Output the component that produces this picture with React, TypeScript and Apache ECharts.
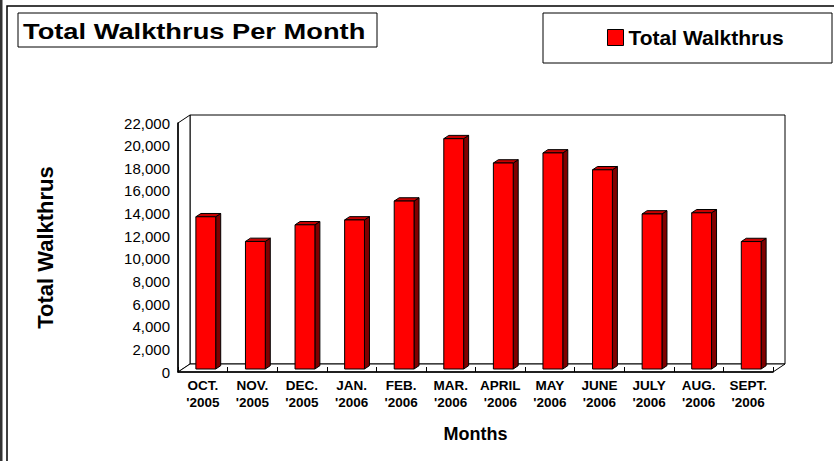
import React, { useEffect, useRef } from "react";
import * as echarts from "echarts";

const months = ["OCT.", "NOV.", "DEC.", "JAN.", "FEB.", "MAR.", "APRIL", "MAY", "JUNE", "JULY", "AUG.", "SEPT."];
const years = ["'2005", "'2005", "'2005", "'2006", "'2006", "'2006", "'2006", "'2006", "'2006", "'2006", "'2006", "'2006"];
const walkthrus = [13450, 11270, 12740, 13170, 14840, 20350, 18200, 19090, 17600, 13700, 13800, 11260];
const yMin = 0;
const yMax = 22000;
const yInterval = 2000;

const FONT = 'Arial, "Liberation Sans", sans-serif';

// layout (pixels)
const GL = 178, GT = 123, GW = 595, GH = 249;
const DX = 12, DY = -8;

export default function App() {
  const ref = useRef<HTMLDivElement>(null);
  useEffect(() => {
    if (!ref.current) return;
    const chart = echarts.init(ref.current, null, { renderer: "svg" });
    const categories = months.map((m, i) => m + "\n" + years[i]);
    const GR = GL + GW, GB = GT + GH;
    const option: any = {
      animation: false,
      backgroundColor: "#ffffff",
      textStyle: { fontFamily: FONT },
      grid: { left: GL, top: GT, width: GW, height: GH, containLabel: false },
      legend: {
        left: 607,
        top: 27,
        padding: 0,
        itemWidth: 16,
        itemHeight: 16,
        selectedMode: false,
        textStyle: { fontSize: 21, fontWeight: "bold", color: "#000", fontFamily: FONT },
        data: [
          {
            name: "Total Walkthrus",
            icon: "rect",
            itemStyle: { color: "#ff0000", borderColor: "#000", borderWidth: 1 },
          },
        ],
      },
      xAxis: {
        type: "category",
        data: categories,
        boundaryGap: true,
        axisLine: { show: true, lineStyle: { color: "#000", width: 1.5 } },
        axisTick: { show: true, inside: true, length: 5, interval: 0, lineStyle: { color: "#000" } },
        axisLabel: {
          interval: 0,
          margin: 5,
          fontSize: 13.5,
          fontWeight: "bold",
          lineHeight: 17,
          color: "#000",
          fontFamily: FONT,
        },
        name: "Months",
        nameLocation: "middle",
        nameGap: 53,
        nameTextStyle: { fontSize: 18, fontWeight: "bold", color: "#000", fontFamily: FONT },
        splitLine: { show: false },
      },
      yAxis: {
        type: "value",
        min: yMin,
        max: yMax,
        interval: yInterval,
        axisLine: { show: true, lineStyle: { color: "#000", width: 1.5 } },
        axisTick: { show: false },
        splitLine: { show: false },
        axisLabel: {
          margin: 8,
          fontSize: 15,
          color: "#000",
          fontFamily: FONT,
          formatter: (v: number) => v.toLocaleString("en-US"),
        },
        name: "Total Walkthrus",
        nameLocation: "middle",
        nameRotate: 90,
        nameGap: 122,
        nameTextStyle: { fontSize: 22, fontWeight: "bold", color: "#000", fontFamily: FONT },
      },
      graphic: [
        // outer frame
        { type: "rect", z: -10, silent: true, shape: { x: 0, y: 0, width: 2.5, height: 461 }, style: { fill: "#333" } },
        {
          type: "rect", z: -10, silent: true,
          shape: { x: 7, y: 6, width: 900, height: 600 },
          style: { fill: "#fff", stroke: "#000", lineWidth: 1.5 },
        },
        // back wall
        {
          type: "rect", z: -5, silent: true,
          shape: { x: GL + DX, y: GT + DY, width: GW, height: GH },
          style: { fill: "#fff", stroke: "#000", lineWidth: 1 },
        },
        // left wall
        {
          type: "polygon", z: -5, silent: true,
          shape: { points: [[GL, GT], [GL + DX, GT + DY], [GL + DX, GB + DY], [GL, GB]] },
          style: { fill: "#fff", stroke: "#000", lineWidth: 1 },
        },
        // floor
        {
          type: "polygon", z: -5, silent: true,
          shape: { points: [[GL, GB], [GL + DX, GB + DY], [GR + DX, GB + DY], [GR, GB]] },
          style: { fill: "#fff", stroke: "#000", lineWidth: 1 },
        },
        // title box
        {
          type: "rect", z: 5, silent: true,
          shape: { x: 18, y: 13, width: 359, height: 34 },
          style: { fill: "#fff", stroke: "#000", lineWidth: 1 },
        },
        {
          type: "text", z: 6, silent: true,
          x: 23, y: 31, scaleX: 1.24,
          style: {
            text: "Total Walkthrus Per Month",
            font: `bold 22px ${FONT}`,
            fill: "#000",
            textAlign: "left",
            textVerticalAlign: "middle",
            verticalAlign: "middle",
          },
        },
        // legend box
        {
          type: "rect", z: -1, silent: true,
          shape: { x: 543, y: 13, width: 289, height: 50 },
          style: { fill: "#fff", stroke: "#000", lineWidth: 1 },
        },
      ],
      series: [
        {
          name: "Total Walkthrus",
          type: "custom",
          itemStyle: { color: "#ff0000" },
          data: walkthrus.map((v, i) => [i, v]),
          encode: { x: 0, y: 1 },
          renderItem: (params: any, api: any) => {
            const idx = api.value(0);
            const v = api.value(1);
            const top = api.coord([idx, v]);
            const base = api.coord([idx, 0]);
            const band = api.size([1, 0])[0];
            const w = band * 0.4;
            const ox = 3, oy = -3, dx = 5, dy = -3.3;
            const x = top[0] - w / 2 + ox;
            const y1 = top[1] + oy;
            const y0 = base[1] + oy;
            return {
              type: "group",
              children: [
                {
                  type: "polygon",
                  shape: { points: [[x + w, y1], [x + w + dx, y1 + dy], [x + w + dx, y0 + dy], [x + w, y0]] },
                  style: { fill: "#800000", stroke: "#000", lineWidth: 1 },
                },
                {
                  type: "polygon",
                  shape: { points: [[x, y1], [x + dx, y1 + dy], [x + w + dx, y1 + dy], [x + w, y1]] },
                  style: { fill: "#c80000", stroke: "#000", lineWidth: 1 },
                },
                {
                  type: "rect",
                  shape: { x, y: y1, width: w, height: y0 - y1 },
                  style: { fill: "#ff0000", stroke: "#000", lineWidth: 1 },
                },
              ],
            };
          },
        },
      ],
    };
    chart.setOption(option);
    return () => chart.dispose();
  }, []);
  return (
    <div
      ref={ref}
      style={{ position: "fixed", left: 0, top: 0, width: 834, height: 461 }}
    />
  );
}
